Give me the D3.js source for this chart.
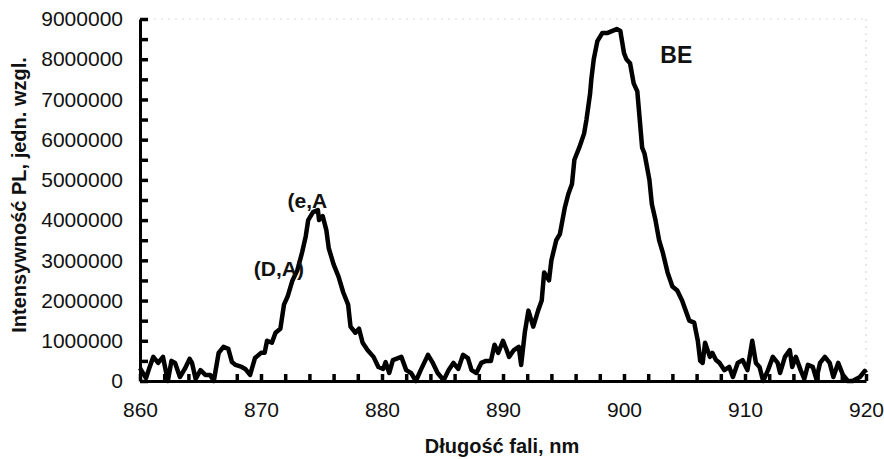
<!DOCTYPE html>
<html>
<head>
<meta charset="utf-8">
<script src="https://cdn.jsdelivr.net/npm/d3@7"></script>
<style>
  body { margin: 0; background: #fff; }
  text { font-family: "Liberation Sans", Arial, sans-serif; }
</style>
</head>
<body>
<div id="chart"></div>
<script>
// wavelength (nm) and PL intensity
const wavelength = [
  860.0, 860.5, 860.8, 861.1, 861.5, 861.9, 862.3, 862.6, 862.9, 863.3,
  863.7, 864.1, 864.3, 864.6, 865.0, 865.4, 865.8, 866.1, 866.5, 866.9,
  867.3, 867.6, 867.9, 868.4, 868.7, 869.1, 869.5, 870.0, 870.3, 870.5,
  870.9, 871.2, 871.6, 871.9, 872.2, 872.6, 873.0, 873.4, 873.7, 873.9,
  874.3, 874.7, 874.8, 875.1, 875.4, 875.6, 876.0, 876.4, 876.8, 877.2,
  877.4, 877.8, 878.1, 878.4, 878.8, 879.3, 879.7, 880.1, 880.3, 880.6,
  880.9, 881.6, 882.0, 882.4, 882.8, 883.2, 883.8, 884.2, 884.6, 885.1,
  885.5, 885.9, 886.3, 886.7, 887.1, 887.4, 887.8, 888.2, 888.6, 889.0,
  889.3, 889.6, 890.0, 890.3, 890.5, 890.9, 891.3, 891.5, 891.8, 892.1,
  892.5, 892.9, 893.2, 893.4, 893.8, 894.0, 894.4, 894.7, 895.1, 895.4,
  895.7, 895.9, 896.3, 896.7, 896.9, 897.2, 897.3, 897.5, 897.8, 898.2,
  898.6, 899.0, 899.4, 899.7, 900.0, 900.2, 900.5, 900.8, 901.1, 901.3,
  901.5, 901.7, 902.1, 902.3, 902.6, 902.9, 903.2, 903.6, 904.0, 904.4,
  904.8, 905.1, 905.4, 905.8, 906.1, 906.3, 906.5, 906.7, 907.1, 907.3,
  907.6, 907.9, 908.3, 908.7, 909.0, 909.4, 909.8, 910.2, 910.6, 910.9,
  911.2, 911.5, 911.9, 912.3, 912.7, 912.9, 913.3, 913.7, 913.9, 914.2,
  914.6, 914.9, 915.2, 915.6, 915.9, 916.2, 916.6, 917.0, 917.3, 917.7,
  918.1, 918.5, 918.9, 919.5, 919.9, 920.0
]
const intensity = [
  320000, 70000, 350000, 600000, 450000, 600000, 0, 500000, 450000, 100000,
  300000, 550000, 450000, 50000, 270000, 150000, 150000, 0, 700000, 850000,
  800000, 470000, 400000, 350000, 300000, 150000, 570000, 700000, 700000, 1000000,
  950000, 1200000, 1300000, 1900000, 2100000, 2500000, 2750000, 3200000, 3600000, 4000000,
  4200000, 4250000, 4000000, 4100000, 3750000, 3300000, 2900000, 2600000, 2200000, 1900000,
  1350000, 1200000, 1300000, 950000, 770000, 600000, 350000, 300000, 470000, 200000,
  520000, 600000, 270000, 200000, 0, 270000, 650000, 450000, 200000, 20000,
  270000, 450000, 300000, 650000, 570000, 270000, 200000, 450000, 500000, 500000,
  900000, 700000, 1000000, 770000, 600000, 770000, 850000, 400000, 1200000, 1750000,
  1350000, 1750000, 2000000, 2700000, 2500000, 3000000, 3500000, 3650000, 4300000, 4650000,
  4900000, 5500000, 5800000, 6150000, 6500000, 7150000, 7500000, 8000000, 8450000, 8650000,
  8650000, 8700000, 8750000, 8700000, 8150000, 8000000, 7900000, 7400000, 7200000, 6500000,
  5800000, 5650000, 5000000, 4400000, 4000000, 3500000, 3200000, 2700000, 2350000, 2250000,
  2000000, 1750000, 1500000, 1450000, 1000000, 500000, 450000, 950000, 600000, 700000,
  520000, 450000, 270000, 350000, 100000, 450000, 520000, 270000, 1000000, 450000,
  350000, 0, 270000, 600000, 450000, 200000, 600000, 770000, 350000, 600000,
  270000, 50000, 400000, 350000, 50000, 450000, 600000, 450000, 100000, 450000,
  150000, 0, 0, 100000, 250000, 200000
]

const xLabels = [860, 870, 880, 890, 900, 910, 920]
const yLabels = [0, 1000000, 2000000, 3000000, 4000000, 5000000, 6000000, 7000000, 8000000, 9000000]

const peakLabels = [
  {text: "(e,A", x: 872.2, y: 4300000, size: 21},
  {text: "(D,A)", x: 869.4, y: 2600000, size: 21},
  {text: "BE", x: 903.0, y: 7900000, size: 23}
]

const MARGIN = {TOP: 19, BOTTOM: 78, LEFT: 140, RIGHT: 18}
const WIDTH = 884 - MARGIN.LEFT - MARGIN.RIGHT
const HEIGHT = 459 - MARGIN.TOP - MARGIN.BOTTOM

const svg = d3.select("#chart")
  .append("svg")
  .attr("width", 884)
  .attr("height", 459)
  .append("g")
  .attr("transform", `translate(${MARGIN.LEFT}, ${MARGIN.TOP})`)

const x = d3.scaleLinear().domain([860, 920]).range([0, WIDTH])
const y = d3.scaleLinear().domain([0, 9000000]).range([HEIGHT, 0])

// faint frame at top and right (as in the scan)
svg.append("line")
  .attr("x1", 0).attr("x2", WIDTH).attr("y1", 0).attr("y2", 0)
  .attr("stroke", "#d8d8d8").attr("stroke-dasharray", "2,5")
svg.append("line")
  .attr("x1", WIDTH).attr("x2", WIDTH).attr("y1", 0).attr("y2", HEIGHT)
  .attr("stroke", "#d0d0d0").attr("stroke-dasharray", "2,5")

// spectrum
const points = wavelength.map((w, i) => [w, intensity[i]])
svg.append("path")
  .datum(points)
  .attr("fill", "none")
  .attr("stroke", "#000")
  .attr("stroke-width", 4.5)
  .attr("stroke-linejoin", "round")
  .attr("d", d3.line().x(d => x(d[0])).y(d => y(d[1])))

// y axis: ticks every 500000, labels every 1000000
const yTicks = d3.range(0, 9000001, 500000)
svg.append("g")
  .attr("class", "axis")
  .call(d3.axisLeft(y)
    .tickValues(yTicks)
    .tickSizeInner(-8)
    .tickSizeOuter(0)
    .tickPadding(17)
    .tickFormat(d => yLabels.includes(d) ? d : ""))

// x axis: ticks every 2 nm, labels every 10 nm
const xTicks = d3.range(860, 921, 2)
svg.append("g")
  .attr("class", "axis")
  .attr("transform", `translate(0, ${HEIGHT})`)
  .call(d3.axisBottom(x)
    .tickValues(xTicks)
    .tickSizeInner(-7)
    .tickSizeOuter(0)
    .tickPadding(21)
    .tickFormat(d => xLabels.includes(d) ? d : ""))

svg.selectAll(".axis .domain").attr("stroke", "#000").attr("stroke-width", 3)
svg.selectAll(".axis .tick line").attr("stroke", "#000").attr("stroke-width", 3.5)
svg.selectAll(".axis .tick text")
  .attr("fill", "#111")
  .style("font-size", "21px")
  .style("font-family", "'Liberation Sans', Arial, sans-serif")

// peak labels
svg.selectAll(".peak")
  .data(peakLabels)
  .enter()
  .append("text")
  .attr("class", "peak")
  .attr("x", d => x(d.x))
  .attr("y", d => y(d.y))
  .attr("font-weight", "bold")
  .attr("font-size", d => d.size)
  .attr("fill", "#111")
  .text(d => d.text)

// axis titles
svg.append("text")
  .attr("x", 362)
  .attr("y", HEIGHT + 72)
  .attr("text-anchor", "middle")
  .attr("font-weight", "bold")
  .attr("font-size", 20)
  .attr("fill", "#111")
  .text("Długość fali, nm")

svg.append("text")
  .attr("x", -176)
  .attr("y", -114)
  .attr("text-anchor", "middle")
  .attr("font-weight", "bold")
  .attr("font-size", 20)
  .attr("fill", "#111")
  .attr("transform", "rotate(-90)")
  .text("Intensywność PL, jedn. wzgl.")
</script>
</body>
</html>
